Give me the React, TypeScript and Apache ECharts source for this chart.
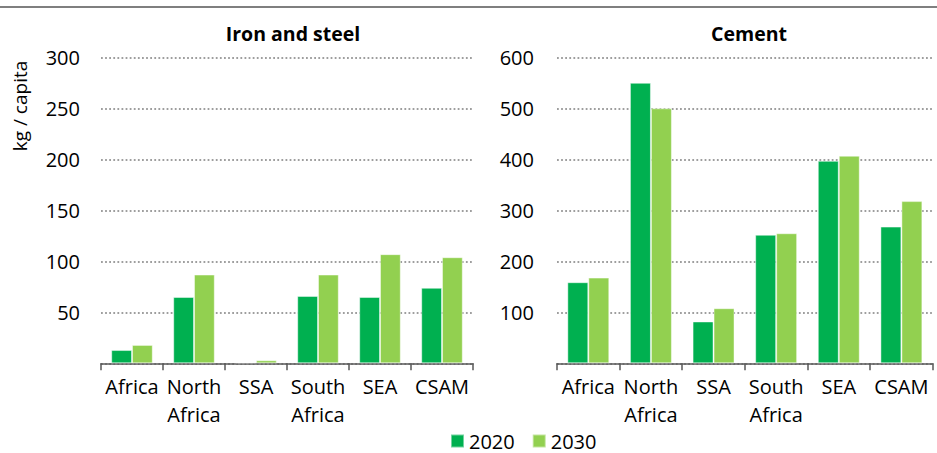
import React, { useEffect, useRef } from "react";
import * as echarts from "echarts";

const categories = ["Africa", "North\nAfrica", "SSA", "South\nAfrica", "SEA", "CSAM"];
const ironSteel2020 = [13, 65, 1, 66, 65, 74];
const ironSteel2030 = [18, 87, 3, 87, 107, 104];
const cement2020 = [159, 550, 82, 252, 397, 268];
const cement2030 = [168, 500, 108, 255, 407, 318];
const seriesNames = ["2020", "2030"];
const titles = ["Iron and steel", "Cement"];
const yAxisName = "kg / capita";

const FONT = "'Open Sans', sans-serif";
const C2020 = "#00B050";
const C2030 = "#92D050";

export default function App() {
  const ref = useRef<HTMLDivElement>(null);
  useEffect(() => {
    if (!ref.current) return;
    const chart = echarts.init(ref.current, undefined, { renderer: "svg" });
    const axisLabel = { fontFamily: FONT, fontSize: 20, color: "#000" };
    const xAxisCommon = {
      type: "category" as const,
      data: categories,
      axisLine: { show: true, lineStyle: { color: "#595959", width: 1.5 } },
      axisTick: { show: true, length: 7, lineStyle: { color: "#595959", width: 1.5 } },
      axisLabel: { ...axisLabel, lineHeight: 28, margin: 9, interval: 0 },
    };
    const yAxisCommon = {
      type: "value" as const,
      min: 0,
      axisLine: { show: false },
      axisTick: { show: false },
      splitLine: { show: true, lineStyle: { color: "#7f7f7f", width: 1.6, type: [1.8, 2.3] } },
    };
    const barCommon = {
      type: "bar" as const,
      barGap: "0%",
      barCategoryGap: "33%",
      itemStyle: { borderColor: "rgba(255,255,255,0.45)", borderWidth: 1 },
    };
    const titleStyle = { fontFamily: FONT, fontSize: 19.5, fontWeight: "bold" as const, color: "#000" };
    chart.setOption({
      animation: false,
      title: [
        { text: titles[0], left: 288, top: 18, textAlign: "center", textStyle: titleStyle },
        { text: titles[1], left: 744, top: 18, textAlign: "center", textStyle: titleStyle },
      ],
      legend: {
        data: seriesNames,
        left: 450,
        top: 431,
        padding: 0,
        itemWidth: 13,
        itemHeight: 13,
        itemGap: 17,
        icon: "rect",
        textStyle: { fontFamily: FONT, fontSize: 20, color: "#000" },
      },
      graphic: [
        { type: "line", shape: { x1: 0, y1: 7, x2: 937, y2: 7 }, style: { stroke: "#7f7f7f", lineWidth: 2 } },
        {
          type: "text",
          x: 20,
          y: 106,
          rotation: Math.PI / 2,
          style: { text: yAxisName, font: `19px ${FONT}`, fill: "#000", textAlign: "center", textVerticalAlign: "middle" },
        },
      ],
      grid: [
        { left: 101, right: 464, top: 57.3, bottom: 89.7 },
        { left: 557, right: 4.3, top: 57.3, bottom: 89.7 },
      ],
      xAxis: [
        { ...xAxisCommon, gridIndex: 0 },
        { ...xAxisCommon, gridIndex: 1 },
      ],
      yAxis: [
        { ...yAxisCommon, gridIndex: 0, max: 300, interval: 50, axisLabel: { ...axisLabel, margin: 21, formatter: (v: number) => (v === 0 ? "" : String(v)) } },
        { ...yAxisCommon, gridIndex: 1, max: 600, interval: 100, axisLabel: { ...axisLabel, margin: 23, formatter: (v: number) => (v === 0 ? "" : String(v)) } },
      ],
      series: [
        { ...barCommon, name: seriesNames[0], xAxisIndex: 0, yAxisIndex: 0, data: ironSteel2020, itemStyle: { ...barCommon.itemStyle, color: C2020 } },
        { ...barCommon, name: seriesNames[1], xAxisIndex: 0, yAxisIndex: 0, data: ironSteel2030, itemStyle: { ...barCommon.itemStyle, color: C2030 } },
        { ...barCommon, name: seriesNames[0], xAxisIndex: 1, yAxisIndex: 1, data: cement2020, itemStyle: { ...barCommon.itemStyle, color: C2020 } },
        { ...barCommon, name: seriesNames[1], xAxisIndex: 1, yAxisIndex: 1, data: cement2030, itemStyle: { ...barCommon.itemStyle, color: C2030 } },
      ],
    });
    return () => chart.dispose();
  }, []);
  return (
    <div
      ref={ref}
      style={{ position: "fixed", left: 0, top: 0, width: 937, height: 453, background: "#fff" }}
    />
  );
}
